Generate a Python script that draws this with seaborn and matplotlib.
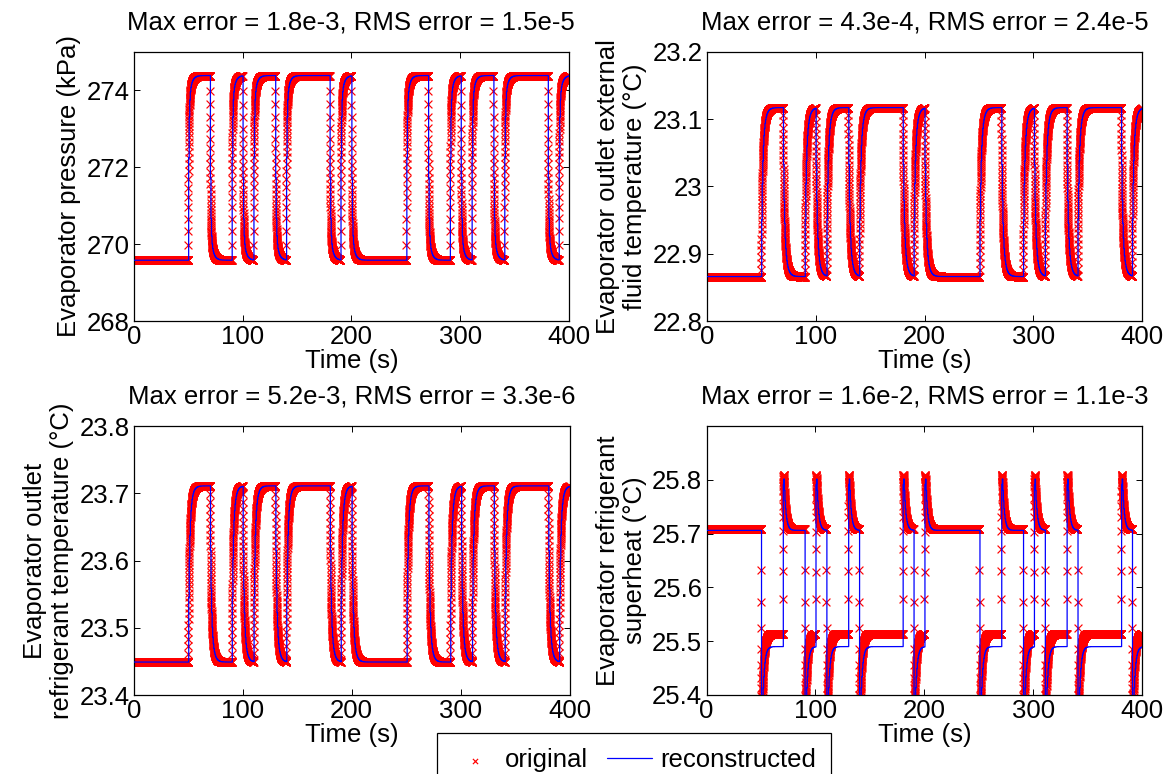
import numpy as np
import pandas as pd
import matplotlib
matplotlib.use("Agg")
import matplotlib.pyplot as plt
import seaborn as sns

# ---------------- data ----------------
# switching instants (s) of the on/off input that drives the evaporator
t_on = [50, 90, 110, 140, 190, 250.5, 290.5, 310.5, 340.5, 390.5]
t_off = [70, 100, 130, 180, 200, 270.5, 300.5, 330.5, 380.5]

# steady levels [input off, input on] of each signal (original)
p_levels = [269.58, 274.38]          # evaporator pressure (kPa)
tf_levels = [22.866, 23.117]         # outlet external fluid temperature
tr_levels = [23.449, 23.711]         # outlet refrigerant temperature
sh_levels = [25.708, 25.514]         # refrigerant superheat
sh_peak_up = 0.115                   # overshoot above the off level
sh_peak_down = 0.16                  # dip below the on level

# reconstructed steady levels
p_levels_rec = [269.58, 274.38]
tf_levels_rec = [22.866, 23.117]
tr_levels_rec = [23.449, 23.711]
sh_levels_rec = [25.706, 25.490]

titles = ["Max error = 1.8e-3, RMS error = 1.5e-5",
          "Max error = 4.3e-4, RMS error = 2.4e-5",
          "Max error = 5.2e-3, RMS error = 3.3e-6",
          "Max error = 1.6e-2, RMS error = 1.1e-3"]
ylabels = ["Evaporator pressure (kPa)",
           "Evaporator outlet external\nfluid temperature (\u00b0C)",
           "Evaporator outlet\nrefrigerant temperature (\u00b0C)",
           "Evaporator refrigerant\nsuperheat (\u00b0C)"]
xticks = [0, 100, 200, 300, 400]
xticklabels = ["0", "100", "200", "300", "400"]
yticks = [[268, 270, 272, 274],
          [22.8, 22.9, 23.0, 23.1, 23.2],
          [23.4, 23.5, 23.6, 23.7, 23.8],
          [25.4, 25.5, 25.6, 25.7, 25.8]]
yticklabels = [["268", "270", "272", "274"],
               ["22.8", "22.9", "23", "23.1", "23.2"],
               ["23.4", "23.5", "23.6", "23.7", "23.8"],
               ["25.4", "25.5", "25.6", "25.7", "25.8"]]
ylims = [(268, 275), (22.8, 23.2), (23.4, 23.8), (25.4, 25.9)]

# ---------------- signal construction from the switching sequence ----------------
dt = 0.05
t = np.arange(0, 400 + dt / 2, dt)
events = sorted([(a, 1.0) for a in t_on] + [(b, 0.0) for b in t_off])
u = np.zeros_like(t)
for when, val in events:
    u[t >= when] = val


def lag(sig, tau):
    out = np.zeros_like(sig)
    alpha = 1 - np.exp(-dt / tau)
    x = sig[0]
    for i, s in enumerate(sig):
        out[i] = x
        x = x + (s - x) * alpha
    return out


def two_lag(levels, tau_f, tau_s, frac):
    resp = frac * lag(u, tau_f) + (1 - frac) * lag(u, tau_s)
    return levels[0] + (levels[1] - levels[0]) * resp


def superheat(levels):
    tf_, ts_ = 0.25, 1.6
    xf = lag(u, tf_)
    xs = lag(u, ts_)
    d = xs - xf
    base = levels[0] + (levels[1] - levels[0]) * xf
    s_arr = np.arange(0, 20, dt)
    pk = np.max(np.exp(-s_arr / ts_) - np.exp(-s_arr / tf_))
    return base + np.where(d > 0, sh_peak_up / pk * d, sh_peak_down / pk * d)


orig = [two_lag(p_levels, 0.5, 2.2, 0.82),
        two_lag(tf_levels, 0.9, 2.2, 0.6),
        two_lag(tr_levels, 0.8, 2.0, 0.6),
        superheat(sh_levels)]
recon = [two_lag(p_levels_rec, 0.5, 2.2, 0.82),
         two_lag(tf_levels_rec, 0.9, 2.2, 0.6),
         two_lag(tr_levels_rec, 0.8, 2.0, 0.6),
         superheat(sh_levels_rec)]

# ---------------- figure ----------------
sns.set_theme(style="ticks")
plt.rcParams["font.family"] = ["Liberation Sans", "DejaVu Sans"]
plt.rcParams.update({
    "xtick.direction": "in", "ytick.direction": "in",
    "xtick.top": True, "ytick.right": True,
    "xtick.major.size": 4, "ytick.major.size": 4,
    "xtick.major.width": 0.7, "ytick.major.width": 0.7,
    "axes.linewidth": 0.9, "axes.edgecolor": "black",
    "xtick.color": "black", "ytick.color": "black",
    "text.color": "black", "axes.labelcolor": "black",
})
FS = 18.5

W, H = 1175, 774
fig = plt.figure(figsize=(W / 100, H / 100), dpi=100)
boxes = [(133.7, 569.0, 51.7, 321.0),
         (706.7, 1142.3, 51.7, 321.0),
         (133.7, 569.5, 426.0, 695.0),
         (706.5, 1142.3, 426.0, 695.0)]

rec_step = 10  # reconstructed sampled every 0.5 s
for i, (x0, x1, yt, yb) in enumerate(boxes):
    ax = fig.add_axes([x0 / W, 1 - yb / H, (x1 - x0) / W, (yb - yt) / H])
    df_o = pd.DataFrame({"t": t, "y": orig[i]})
    df_r = pd.DataFrame({"t": t[::rec_step], "y": recon[i][::rec_step]})
    sns.scatterplot(data=df_o, x="t", y="y", marker="x", color="red", s=32,
                    linewidth=0.85, ax=ax, label="original", zorder=2)
    sns.lineplot(data=df_r, x="t", y="y", color="blue", lw=0.9, ax=ax,
                 estimator=None, sort=False, drawstyle="steps-post",
                 label="reconstructed", zorder=3)
    ax.set_xlim(0, 400)
    ax.set_ylim(*ylims[i])
    ax.set_xticks(xticks)
    ax.set_xticklabels(xticklabels, fontsize=FS)
    ax.set_yticks(yticks[i])
    ax.set_yticklabels(yticklabels[i], fontsize=FS)
    ax.tick_params(axis="x", pad=3)
    ax.tick_params(axis="y", pad=3)
    ax.set_xlabel("Time (s)", fontsize=FS, labelpad=0)
    ax.set_ylabel(ylabels[i], fontsize=FS, labelpad=4, linespacing=1.15)
    ax.set_title(titles[i], fontsize=FS, pad=16)
    if i == 0:
        handles, labels = ax.get_legend_handles_labels()
    ax.get_legend().remove()

leg = fig.legend(handles, labels, loc="upper left", ncol=2,
                 bbox_to_anchor=(437 / W, 1 - 733 / H), fontsize=FS,
                 frameon=True, fancybox=False, edgecolor="black",
                 framealpha=1, borderaxespad=0, columnspacing=0.75,
                 handlelength=1.75, handletextpad=0.3, borderpad=0.6)
leg.get_frame().set_linewidth(0.9)
for lh in leg.legend_handles:
    try:
        lh.set_sizes([14])
    except AttributeError:
        pass

fig.savefig("out.png", dpi=100)
